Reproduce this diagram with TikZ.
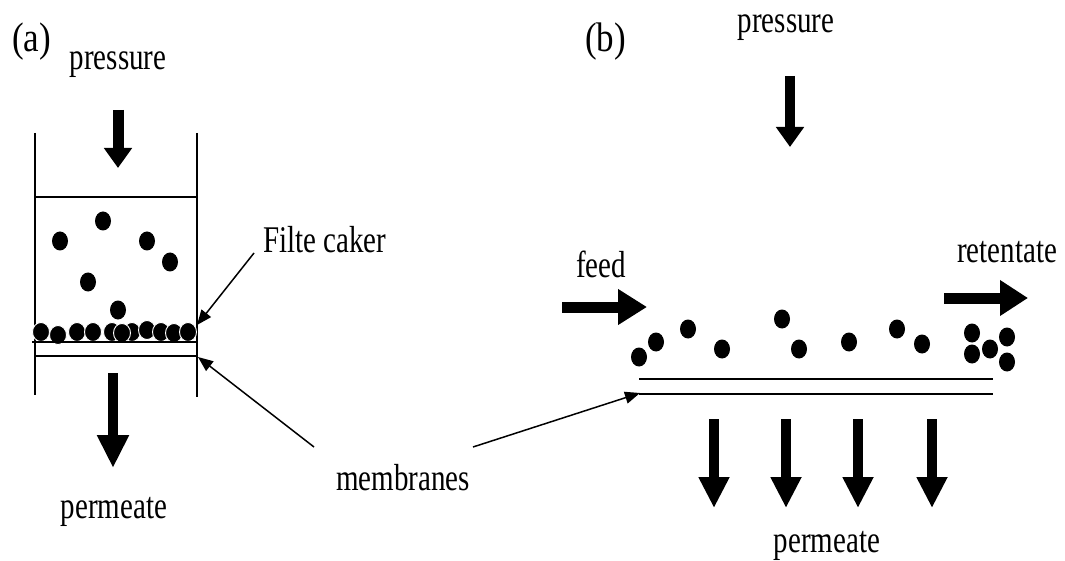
\documentclass[tikz,border=0pt]{standalone}
\usepackage{fontspec}
\setmainfont{Liberation Serif}
\usetikzlibrary{arrows.meta}
\tikzset{
  lbl/.style={font=\fontsize{29}{32}\selectfont, inner sep=0pt, anchor=base},
  panel/.style={font=\fontsize{35}{38}\selectfont, inner sep=0pt, anchor=base west},
  wall/.style={line width=1.9pt},
  memb/.style={line width=1.9pt},
  pointer/.style={line width=1.5pt, -{Triangle[length=15pt,width=12pt]}},
  odot/.style={fill=black, draw=white, line width=0.9pt},
  fat/.style={line cap=butt}
}
\newcommand{\tall}[1]{\scalebox{1}[1.3]{#1}}
\newcommand{\ptall}[1]{\scalebox{1}[1.18]{#1}}
\newcommand{\particle}[2]{\fill (#1,#2) ellipse [x radius=8, y radius=9.5];}
\newcommand{\cakeparticle}[2]{\filldraw[odot] (#1,#2) ellipse [x radius=8.5, y radius=9.5];}
\begin{document}
\begin{tikzpicture}[x=1pt,y=-1pt]
\useasboundingbox (0,0) rectangle (1065,561);
% ---------- panel (a)
\node[panel] (pa) at (12,52) {\ptall{(a)}};
\node[lbl] (presa) at (118,70) {\tall{pressure}};
\draw[wall] (35,133) -- (35,395);
\draw[wall] (197,133) -- (197,397);
\draw[wall] (35,197) -- (197,197);
% pressure arrow (a)
\coordinate (pa1) at (118,110);
\coordinate (pa2) at (118,168);
\draw[fat, line width=11pt, -{Triangle[length=20pt,width=27pt]}] (pa1) -- (pa2);
% suspended particles
\particle{103}{221}
\particle{60}{241}
\particle{147}{241}
\particle{170}{262}
\particle{88}{282}
\particle{118}{310}
% cake layer
\cakeparticle{41}{332}
\cakeparticle{58}{335}
\cakeparticle{77}{332}
\cakeparticle{93}{332}
\cakeparticle{112}{332}
\cakeparticle{132}{332}
\cakeparticle{122}{333}
\cakeparticle{147}{330}
\cakeparticle{161}{332}
\cakeparticle{174}{333}
\cakeparticle{188}{332}
\draw[memb] (32,342) -- (197,342);
\draw[memb] (35,356) -- (197,356);
% permeate arrow (a)
\coordinate (pe1) at (113,373);
\coordinate (pe2) at (113,468);
\draw[fat, line width=10pt, -{Triangle[length=33pt,width=30pt]}] (pe1) -- (pe2);
\node[lbl] (perma) at (114,518) {\tall{permeate}};
% filter cake label
\node[lbl, anchor=base west] (cake) at (263,253) {\tall{Filte caker}};
\coordinate (cakeS) at (254,253);
\coordinate (cakeT) at (197,325);
\draw[pointer] (cakeS) -- (cakeT);
% membranes label
\node[lbl] (memlbl) at (403,490) {\tall{membranes}};
\coordinate (mlA) at (314,447);
\coordinate (mtA) at (198,357);
\coordinate (mlB) at (473,447);
\coordinate (mtB) at (640,393);
\draw[pointer] (mlA) -- (mtA);
\draw[pointer] (mlB) -- (mtB);
% ---------- panel (b)
\node[panel] (pb) at (585,52) {\ptall{(b)}};
\node[lbl] (presb) at (786,33) {\tall{pressure}};
\coordinate (pb1) at (790,76);
\coordinate (pb2) at (790,147);
\draw[fat, line width=10pt, -{Triangle[length=20pt,width=27pt]}] (pb1) -- (pb2);
\node[lbl, anchor=base west] (feed) at (576,277) {\tall{feed}};
\coordinate (f1) at (562,307);
\coordinate (f2) at (647,307);
\draw[fat, line width=11pt, -{Triangle[length=29pt,width=34pt]}] (f1) -- (f2);
\node[lbl, anchor=base west] (ret) at (957,263) {\tall{retentate}};
\coordinate (r1) at (944,298);
\coordinate (r2) at (1028,298);
\draw[fat, line width=11pt, -{Triangle[length=28pt,width=34pt]}] (r1) -- (r2);
% particles (b)
\particle{639}{357}
\particle{656}{342}
\particle{688}{329}
\particle{722}{349}
\particle{782}{319}
\particle{799}{349}
\particle{849}{342}
\particle{897}{329}
\particle{922}{344}
\particle{972}{333}
\particle{972}{354}
\particle{990}{349}
\particle{1007}{337}
\particle{1007}{362}
% membrane (b)
\draw[memb] (639,379) -- (993,379);
\draw[memb] (639,394) -- (993,394);
% permeate arrows (b)
\foreach \xx/\nm in {714/p1,786/p2,858/p3,932/p4}{
  \coordinate (\nm s) at (\xx,419);
  \coordinate (\nm e) at (\xx,508);
  \draw[fat, line width=9.5pt, -{Triangle[length=31pt,width=29pt]}] (\nm s) -- (\nm e);
}
\node[lbl] (permb) at (827,552) {\tall{permeate}};
\end{tikzpicture}
\end{document}
